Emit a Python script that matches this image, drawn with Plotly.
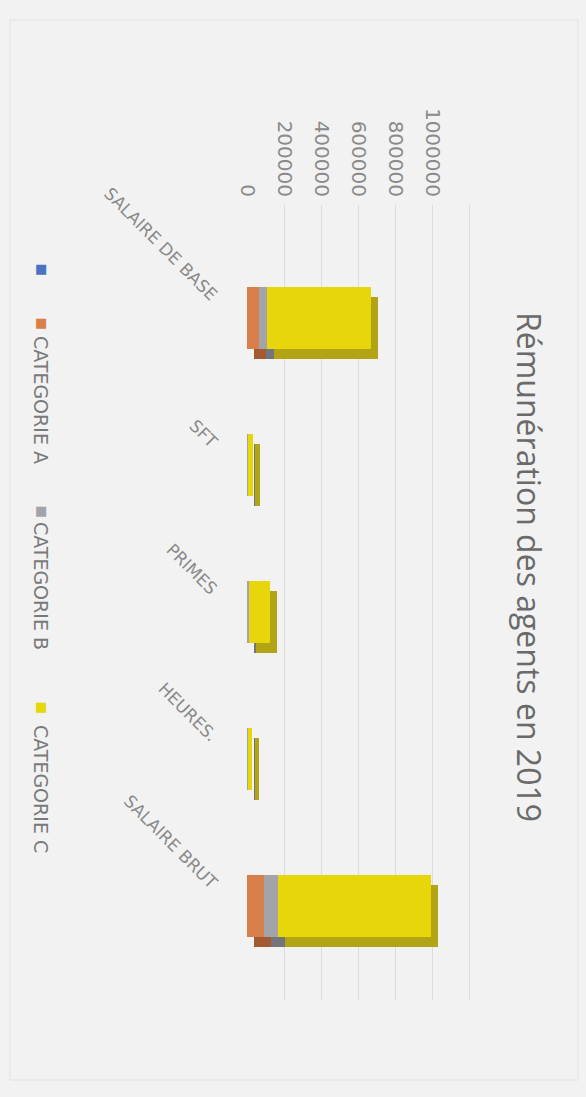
import plotly.graph_objects as go

# --- data -------------------------------------------------------------
categories = ["SALAIRE DE BASE", "SFT", "PRIMES", "HEURES.", "SALAIRE BRUT"]
serie_1 = [0, 0, 0, 0, 0]
categorie_a = [65000, 2000, 5000, 2000, 90000]
categorie_b = [43000, 1500, 4000, 1500, 75000]
categorie_c = [562000, 28000, 115000, 25000, 830000]

tick_values = [0, 200000, 400000, 600000, 800000, 1000000, 1200000]
tick_labels = ["0", "200000", "400000", "600000", "800000", "1000000", ""]

series_names = ["", "CATEGORIE A", "CATEGORIE B", "CATEGORIE C"]
series_values = [serie_1, categorie_a, categorie_b, categorie_c]
front_colors = ["#4a72c0", "#d9804a", "#a3a3aa", "#e6d60a"]
side_colors = ["#2f5597", "#a35a30", "#74747c", "#b3a415"]

# --- geometry ---------------------------------------------------------
W, H = 586, 1097
L, R, T, B = 247, 114, 205, 97
plot_w = W - L - R
plot_h = H - T - B
x_max = 1216000
units_per_px = x_max / plot_w
cat_px = 147.0
y_top = -0.77
y_bottom = y_top + plot_h / cat_px

bar_w = 0.42
depth_x = 7 * units_per_px      # extrusion to the right
depth_y = 10 / cat_px           # extrusion downwards


def px_x(px):
    return (px - L) / plot_w


def px_y(py):
    return (H - B - py) / plot_h


fig = go.Figure()

# cumulative bases for the stacked segments
bases = []
running = [0] * len(categories)
for vals in series_values:
    bases.append(list(running))
    running = [r + v for r, v in zip(running, vals)]

# darker extruded faces first, front faces on top
for vals, base, col in zip(series_values, bases, side_colors):
    fig.add_trace(go.Bar(
        y=categories, x=vals, base=[b + depth_x for b in base],
        orientation="h", width=bar_w, offset=-bar_w / 2 + depth_y,
        marker=dict(color=col, line=dict(width=0)),
        showlegend=False, hoverinfo="skip"))

for name, vals, base, col in zip(series_names, series_values, bases, front_colors):
    fig.add_trace(go.Bar(
        y=categories, x=vals, base=base, name=name,
        orientation="h", width=bar_w, offset=-bar_w / 2,
        marker=dict(color=col, line=dict(width=0)),
        showlegend=False))

annotations = [
    dict(text="Rémunération des agents en 2019", textangle=90,
         x=px_x(530), y=px_y(567), xref="paper", yref="paper",
         xanchor="center", yanchor="middle",
         showarrow=False, font=dict(family="Open Sans", size=32, color="#6a6a6a")),
]

# legend: coloured square + rotated label for each series
marker_pos = [268, 322, 510, 706]
label_pos = [None, 400, 586, 789]
for name, col, mpy, lpy in zip(series_names, front_colors, marker_pos, label_pos):
    annotations.append(dict(
        text="■", x=px_x(41), y=px_y(mpy), xref="paper", yref="paper",
        xanchor="center", yanchor="middle",
        showarrow=False, font=dict(family="DejaVu Sans", size=13, color=col)))
    if name:
        annotations.append(dict(
            text=name, textangle=90, x=px_x(41), y=px_y(lpy),
            xref="paper", yref="paper", xanchor="center", yanchor="middle",
            showarrow=False,
            font=dict(family="DejaVu Sans", size=19, color="#7a7a7a")))

fig.update_layout(
    width=W, height=H,
    margin=dict(l=L, r=R, t=T, b=B),
    paper_bgcolor="#f2f2f2",
    plot_bgcolor="#f2f2f2",
    barmode="overlay",
    bargap=0,
    annotations=annotations,
    shapes=[dict(type="rect", xref="paper", yref="paper",
                 x0=px_x(10), x1=px_x(578), y0=px_y(1080), y1=px_y(20),
                 line=dict(color="#e2e2e2", width=1), layer="below")],
    xaxis=dict(
        side="top", range=[0, x_max],
        tickmode="array", tickvals=tick_values, ticktext=tick_labels,
        tickangle=90, showgrid=True, gridcolor="#dcdcdc", gridwidth=1,
        zeroline=False, showline=False, ticks="",
        ticklabelstandoff=4,
        tickfont=dict(family="DejaVu Sans", size=20, color="#8a8a8a"),
    ),
    yaxis=dict(
        range=[y_bottom, y_top], type="category",
        tickangle=45, showgrid=False, zeroline=False, showline=False, ticks="",
        ticklabelstandoff=30, ticklabelshift=20,
        tickfont=dict(family="DejaVu Sans", size=17, color="#8a8a8a"),
    ),
)

fig.write_html("out.html")
